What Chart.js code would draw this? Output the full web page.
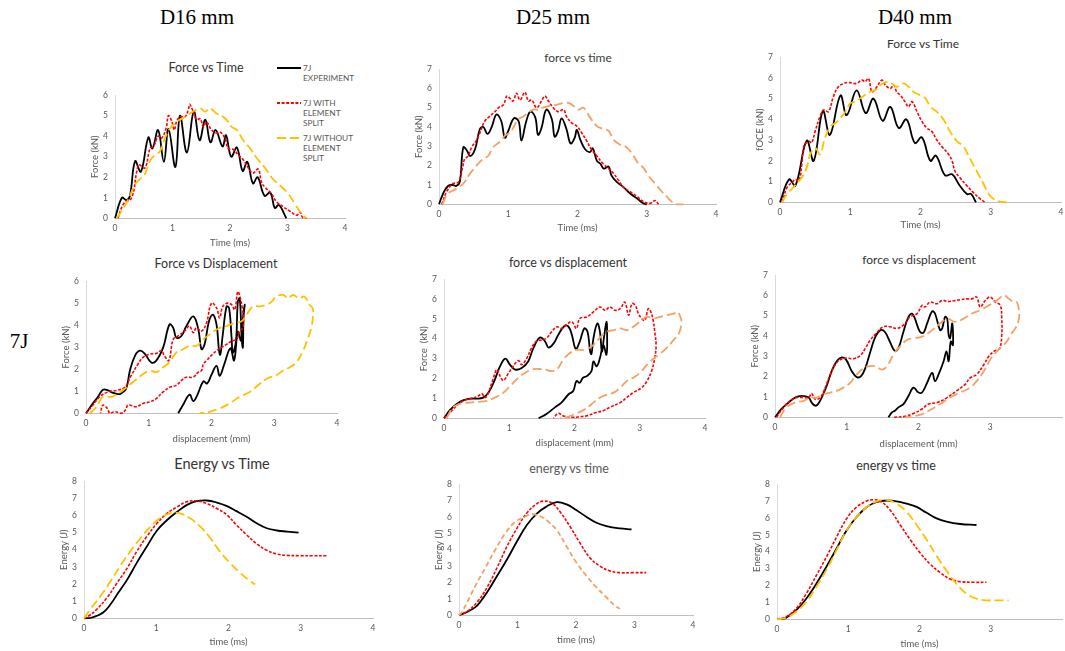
<!DOCTYPE html>
<html lang="en">
<head>
<meta charset="UTF-8">
<title>7J impact - force, displacement and energy</title>
<script src="https://cdn.jsdelivr.net/npm/chart.js"></script>
<style>
  html, body { margin: 0; padding: 0; background: #fff; overflow: hidden; }
  body { width: 1065px; height: 651px; position: relative; font-family: 'Lato', sans-serif; }
  .head { position: absolute; font-family: 'Liberation Serif', 'Times New Roman', serif; font-size: 21px; color: #000; transform: translate(-50%, -50%); white-space: nowrap; }
  .ttl { position: absolute; transform: translate(-50%, -50%); white-space: nowrap; color: #333; }
  canvas { position: absolute; }
  .leg { position: absolute; font-size: 8.3px; line-height: 10px; color: #595959; }
  .legline { position: absolute; }
</style>
</head>
<body>
<div class="head" style="left:197px;top:17px">D16 mm</div>
<div class="head" style="left:553px;top:17px">D25 mm</div>
<div class="head" style="left:915px;top:17px">D40 mm</div>
<div class="head" style="left:19px;top:341px">7J</div>

<!-- legend of the first panel -->
<svg class="legline" style="left:277px;top:64px" width="24" height="8"><line x1="0" y1="4" x2="24" y2="4" stroke="#000" stroke-width="2"/></svg>
<div class="leg" style="left:303px;top:63px">7J<br>EXPERIMENT</div>
<svg class="legline" style="left:277px;top:99px" width="24" height="8"><line x1="0" y1="4" x2="24" y2="4" stroke="#ff0000" stroke-width="2" stroke-dasharray="3 1.6"/></svg>
<div class="leg" style="left:303px;top:98px">7J WITH<br>ELEMENT<br>SPLIT</div>
<svg class="legline" style="left:277px;top:134px" width="24" height="8"><line x1="0" y1="4" x2="24" y2="4" stroke="#ffc000" stroke-width="2" stroke-dasharray="9 4"/></svg>
<div class="leg" style="left:303px;top:133px">7J WITHOUT<br>ELEMENT<br>SPLIT</div>

<script>
// ---- D16 force vs time
const ft16ExpT = [0,0.12,0.2,0.26,0.35,0.45,0.58,0.65,0.75,0.85,0.93,1.05,1.13,1.25,1.37,1.47,1.57,1.66,1.75,1.87,1.93,2.02,2.12,2.22,2.3,2.4,2.48,2.6,2.7,2.78,2.85,2.98];
const ft16ExpF = [0,1.0,0.88,1.1,2.78,2.27,3.94,3.4,4.3,2.75,4.35,2.5,5.0,3.2,5.2,3.8,4.8,3.7,4.3,3.5,4.05,3.0,3.45,2.3,2.75,1.7,2.0,1.1,1.25,0.5,0.65,0];
const ft16SplitT = [0.05,0.15,0.29,0.38,0.42,0.52,0.61,0.67,0.75,0.81,0.89,0.93,0.99,1.03,1.07,1.13,1.22,1.28,1.3,1.36,1.42,1.48,1.54,1.59,1.68,1.77,1.83,1.91,1.97,2.06,2.14,2.23,2.32,2.4,2.49,2.55,2.61,2.72,2.81,2.93,3.04,3.16,3.22,3.26,3.33];
const ft16SplitF = [0,0.7,1.0,2.3,2.6,2.45,3.4,3.5,4.0,3.9,4.4,5.0,4.7,4.3,4.7,4.95,4.95,5.35,5.55,5.2,4.8,4.85,4.45,4.7,4.3,4.15,4.2,3.9,3.4,3.35,3.1,2.85,2.45,2.2,2.4,1.75,1.5,1.2,0.8,0.55,0.35,0.15,0.3,0.05,0];
const ft16NoSplitT = [0.03,0.2,0.35,0.43,0.52,0.61,0.7,0.78,0.87,0.96,1.07,1.22,1.36,1.48,1.57,1.65,1.77,1.88,1.97,2.03,2.12,2.23,2.35,2.46,2.61,2.75,2.87,3.01,3.13,3.25,3.33];
const ft16NoSplitF = [0,0.75,1.65,1.9,2.15,2.8,3.1,3.25,3.9,4.4,4.7,4.95,5.2,5.35,5.2,5.35,5.1,4.95,4.7,4.45,4.3,3.8,3.4,2.95,2.45,1.9,1.6,1.2,0.7,0.2,0];

// ---- D25 force vs time
const ft25ExpT = [0,0.06,0.13,0.2,0.25,0.3,0.35,0.4,0.45,0.52,0.59,0.64,0.7,0.76,0.83,0.9,0.95,1.0,1.08,1.15,1.19,1.26,1.32,1.39,1.43,1.48,1.55,1.63,1.67,1.72,1.77,1.84,1.9,1.96,1.99,2.04,2.11,2.18,2.22,2.28,2.33,2.38,2.45,2.49,2.57,2.66,2.76,2.86,2.95,3.0];
const ft25ExpF = [0,0.56,0.95,1.0,0.95,1.15,2.95,2.8,2.5,2.85,3.9,4.0,3.65,4.0,4.65,4.3,3.45,3.8,4.45,4.3,3.3,4.3,4.8,4.5,3.6,3.95,4.9,4.4,3.5,3.8,4.45,3.9,3.15,3.45,3.85,3.35,2.85,2.7,2.9,2.25,2.1,1.85,1.95,1.5,1.15,0.9,0.56,0.3,0.05,0];
const ft25SplitT = [0.04,0.11,0.2,0.28,0.34,0.37,0.42,0.47,0.54,0.59,0.66,0.73,0.81,0.86,0.93,0.98,1.02,1.07,1.12,1.17,1.24,1.29,1.34,1.41,1.48,1.53,1.58,1.65,1.72,1.8,1.84,1.92,1.99,2.06,2.13,2.2,2.28,2.37,2.45,2.52,2.59,2.66,2.76,2.86,2.95,3.05,3.12,3.17];
const ft25SplitF = [0,0.65,1.07,1.15,1.9,2.35,2.5,2.95,3.3,3.7,4.3,4.55,4.8,5.0,5.15,5.6,5.5,5.35,5.75,5.4,5.8,5.35,5.4,5.0,5.35,5.6,5.35,5.0,4.8,4.9,4.55,4.2,4.05,3.7,3.3,2.85,2.5,2.1,1.85,1.6,1.25,0.9,0.65,0.4,0.15,0.05,0.2,0];
const ft25NoSplitT = [0.05,0.13,0.25,0.35,0.45,0.52,0.59,0.66,0.71,0.78,0.83,0.9,0.95,1.02,1.07,1.14,1.22,1.29,1.36,1.43,1.5,1.6,1.7,1.8,1.87,1.94,2.01,2.08,2.13,2.18,2.28,2.37,2.45,2.52,2.61,2.71,2.81,2.88,2.95,3.02,3.12,3.22,3.29,3.36,3.43,3.53];
const ft25NoSplitF = [0,0.55,0.8,1.07,1.6,1.9,2.2,2.4,2.5,2.95,3.1,3.3,3.55,3.7,3.95,4.4,4.55,4.75,4.9,4.9,5.0,5.1,5.15,5.25,5.25,5.1,4.9,5.0,4.8,4.5,4.05,3.9,3.8,3.35,3.1,2.95,2.5,2.1,1.9,1.5,1.07,0.65,0.4,0.14,0,0];

// ---- D40 force vs time
const ft40ExpT = [0,0.13,0.22,0.38,0.48,0.61,0.71,0.86,0.95,1.09,1.22,1.33,1.46,1.57,1.69,1.8,1.92,2.02,2.14,2.22,2.35,2.45,2.55,2.66,2.72,2.79];
const ft40ExpF = [0,1.1,0.8,2.97,2.0,4.4,3.25,5.15,4.2,5.4,4.3,5.0,3.93,4.6,3.58,4.0,2.86,3.13,2.0,2.25,1.3,1.35,0.85,0.4,0.4,0];
const ft40SplitT = [0.03,0.1,0.17,0.22,0.27,0.31,0.34,0.41,0.45,0.5,0.57,0.62,0.69,0.76,0.83,0.91,0.98,1.05,1.09,1.17,1.21,1.26,1.31,1.38,1.45,1.5,1.57,1.62,1.66,1.71,1.78,1.83,1.88,1.95,2.02,2.09,2.16,2.23,2.3,2.4,2.45,2.49,2.56,2.66,2.75,2.85,2.92];
const ft40SplitF = [0,0.72,0.95,1.1,1.03,1.83,2.7,2.94,2.86,3.42,4.14,4.45,4.37,5.09,5.57,5.73,5.78,5.73,5.73,5.89,5.81,5.97,5.33,5.57,5.89,5.65,5.49,5.65,5.33,5.17,4.85,4.61,4.85,4.37,3.9,3.58,3.42,3.02,2.7,2.31,1.99,1.51,1.19,0.8,0.48,0.16,0];
const ft40NoSplitT = [0.03,0.1,0.19,0.31,0.38,0.43,0.5,0.57,0.64,0.72,0.79,0.86,0.93,1.0,1.07,1.14,1.21,1.28,1.36,1.43,1.52,1.59,1.66,1.76,1.83,1.9,1.99,2.07,2.14,2.23,2.33,2.42,2.52,2.61,2.71,2.8,2.9,2.97,3.04,3.13,3.23];
const ft40NoSplitF = [0,0.4,0.72,1.19,1.67,2.31,2.62,2.31,3.1,3.66,3.82,4.06,4.37,4.77,4.85,5.01,5.17,5.33,5.41,5.65,5.81,5.73,5.57,5.73,5.57,5.33,5.17,5.01,4.61,4.37,3.98,3.42,2.94,2.7,2.07,1.51,0.87,0.4,0.16,0.03,0];

// ---- D16 force vs displacement
const fd16ExpD = [0,0.11,0.19,0.27,0.35,0.43,0.51,0.56,0.64,0.7,0.78,0.86,0.94,1.04,1.12,1.23,1.33,1.39,1.44,1.52,1.6,1.71,1.79,1.84,1.89,1.96,2.02,2.08,2.12,2.14,2.18,2.24,2.28,2.32,2.34,2.39,2.42,2.45,2.48,2.5,2.51,2.53,2.5,2.47,2.42,2.36,2.3,2.2,2.13,2.08,2.0,1.93,1.87,1.77,1.71,1.65,1.55,1.47];
const fd16ExpF = [0,0.45,0.75,1.07,1.04,0.93,0.87,0.9,1.12,1.94,2.61,2.84,2.69,2.31,2.39,2.99,4.03,3.88,3.43,3.51,3.96,4.4,3.81,2.91,3.13,4.18,4.48,4.03,2.84,2.66,3.58,4.85,4.78,3.43,2.76,3.28,5.07,5.22,3.43,2.99,4.33,4.93,4.3,3.3,3.7,2.4,2.95,2.2,1.7,2.15,1.75,1.35,1.45,0.8,0.55,0.85,0.4,0];
const fd16SplitD = [0,0.09,0.22,0.35,0.49,0.62,0.72,0.83,0.91,1.02,1.12,1.2,1.25,1.32,1.39,1.47,1.57,1.65,1.71,1.76,1.84,1.92,2.0,2.08,2.13,2.18,2.26,2.32,2.37,2.42,2.46,2.49,2.51,2.5,2.45,2.4,2.32,2.24,2.16,2.08,2.02,1.92,1.87,1.84,1.79,1.71,1.6,1.52,1.44,1.34,1.23,1.12,1.02,0.91,0.8,0.67,0.63,0.56,0.46,0.38,0.34,0.27,0.23];
const fd16SplitF = [0,0.3,0.75,0.97,1.04,1.19,1.72,2.24,2.54,2.69,2.72,2.84,2.61,2.39,3.36,3.51,3.73,3.96,3.66,3.88,3.73,4.1,5.0,4.78,4.33,4.85,5.0,4.93,4.7,5.52,5.22,4.78,4.33,3.88,3.73,3.36,3.28,3.13,2.99,2.84,2.69,2.39,2.24,1.94,1.87,1.64,1.64,1.49,1.27,1.19,0.97,0.67,0.52,0.45,0.3,0.37,0.15,0,0.07,0,0.22,0.37,0];
const fd16NoSplitD = [0.06,0.17,0.27,0.41,0.51,0.62,0.75,0.88,1.02,1.12,1.23,1.33,1.44,1.55,1.65,1.76,1.87,1.97,2.11,2.24,2.37,2.48,2.56,2.66,2.77,2.88,2.96,3.03,3.14,3.22,3.3,3.4,3.48,3.56,3.61,3.62,3.59,3.54,3.46,3.35,3.25,3.14,3.03,2.88,2.74,2.61,2.45,2.29,2.13,1.97,1.81];
const fd16NoSplitF = [0,0.3,0.75,0.75,0.9,1.12,1.42,1.72,1.94,1.87,2.09,2.31,2.76,2.91,3.06,3.06,3.36,3.58,3.85,3.96,4.1,4.18,4.48,4.85,4.85,4.93,5.07,5.3,5.37,5.22,5.37,5.22,5.3,4.93,4.78,4.48,3.88,3.43,2.84,2.31,2.09,1.94,1.72,1.57,1.27,0.97,0.75,0.45,0.22,0.07,0];

// ---- D25 force vs displacement
const fd25ExpD = [0,0.09,0.19,0.3,0.4,0.5,0.6,0.68,0.76,0.86,0.94,1.01,1.09,1.19,1.29,1.37,1.47,1.55,1.6,1.68,1.75,1.85,1.91,1.96,2.02,2.08,2.15,2.2,2.24,2.26,2.29,2.35,2.39,2.42,2.45,2.49,2.5,2.49,2.44,2.39,2.34,2.29,2.26,2.19,2.13,2.08,2.03,1.98,1.91,1.8,1.7,1.57,1.45];
const fd25ExpF = [0,0.41,0.71,0.91,0.99,0.99,1.04,1.29,1.79,2.62,3.0,2.7,2.45,2.53,2.86,3.53,4.06,3.86,3.56,3.77,4.19,4.65,4.6,4.19,3.49,3.86,4.52,4.35,3.36,3.23,4.02,4.77,4.35,3.36,4.02,4.85,4.19,3.2,3.69,3.03,2.62,2.86,2.37,2.12,2.04,1.79,1.87,1.37,1.21,0.79,0.55,0.22,0];
const fd25SplitD = [0,0.12,0.22,0.32,0.42,0.53,0.58,0.63,0.68,0.75,0.81,0.86,0.91,0.99,1.06,1.14,1.19,1.27,1.34,1.42,1.5,1.57,1.65,1.73,1.8,1.88,1.96,2.03,2.08,2.19,2.29,2.39,2.47,2.54,2.62,2.7,2.77,2.83,2.88,2.93,2.98,3.03,3.08,3.13,3.17,3.21,3.23,3.25,3.23,3.18,3.11,3.03,2.9,2.8,2.7,2.54,2.44,2.34,2.19,2.08,1.98,1.83,1.75,1.68];
const fd25SplitF = [0,0.38,0.71,0.91,0.99,1.13,1.24,1.04,1.29,1.95,2.45,2.12,1.9,2.28,2.62,2.9,2.7,3.03,3.53,3.89,3.94,4.02,4.35,4.6,4.52,4.72,4.85,4.52,5.02,5.1,5.35,5.6,5.43,5.6,5.43,5.51,5.84,5.18,5.76,5.68,5.26,5.02,4.93,5.51,5.35,4.85,4.35,3.69,3.03,2.37,1.87,1.54,1.29,1.04,0.79,0.55,0.38,0.3,0.13,0.08,0.05,0.12,0.25,0];
const fd25NoSplitD = [0.04,0.14,0.27,0.4,0.53,0.65,0.78,0.91,1.04,1.14,1.24,1.34,1.45,1.55,1.65,1.73,1.83,1.93,2.03,2.16,2.29,2.39,2.49,2.6,2.7,2.8,2.9,3.0,3.11,3.21,3.31,3.41,3.52,3.58,3.63,3.64,3.6,3.52,3.41,3.29,3.16,3.0,2.9,2.8,2.7,2.6,2.49,2.39,2.26,2.14,2.01,1.88,1.78];
const fd25NoSplitF = [0,0.55,0.75,0.79,0.83,0.88,1.04,1.29,1.71,2.04,2.28,2.45,2.48,2.45,2.37,2.45,2.95,3.28,3.44,3.44,3.69,4.06,4.35,4.44,4.52,4.44,4.6,4.85,5.1,5.02,5.1,5.18,5.26,5.35,5.02,4.77,4.27,3.94,3.53,3.2,2.86,2.28,2.04,1.87,1.54,1.29,1.18,1.04,0.71,0.41,0.22,0.05,0];

// ---- D40 force vs displacement
const fd40ExpD = [0,0.09,0.19,0.28,0.37,0.47,0.51,0.56,0.6,0.65,0.72,0.79,0.86,0.93,0.99,1.07,1.14,1.2,1.26,1.33,1.4,1.47,1.53,1.6,1.67,1.72,1.79,1.86,1.91,1.95,2.02,2.07,2.12,2.19,2.23,2.3,2.33,2.37,2.4,2.42,2.44,2.47,2.48,2.45,2.42,2.39,2.35,2.28,2.23,2.19,2.12,2.05,2.0,1.93,1.86,1.79,1.72,1.67,1.63,1.58];
const fd40ExpF = [0,0.41,0.73,0.97,1.05,0.97,0.73,0.57,0.65,0.97,1.54,2.27,2.76,2.95,2.84,2.27,1.98,2.03,2.43,3.24,3.97,4.29,4.21,3.73,3.27,3.4,4.21,4.94,5.1,4.86,4.21,4.17,4.62,5.22,5.11,4.29,4.38,4.94,4.86,4.05,3.89,4.62,3.55,3.73,2.76,3.24,2.76,2.11,1.78,2.19,1.7,1.22,1.22,1.46,1.05,0.65,0.49,0.32,0.24,0];
const fd40SplitD = [0.02,0.12,0.21,0.3,0.4,0.47,0.51,0.56,0.63,0.7,0.77,0.84,0.91,1.0,1.09,1.19,1.26,1.33,1.42,1.51,1.6,1.7,1.79,1.88,1.98,2.05,2.09,2.16,2.26,2.33,2.42,2.51,2.58,2.67,2.74,2.81,2.86,2.93,3.0,3.07,3.14,3.16,3.16,3.13,3.05,2.98,2.91,2.81,2.72,2.65,2.53,2.4,2.26,2.14,2.05,1.93,1.81,1.65];
const fd40SplitF = [0,0.49,0.81,0.97,0.97,0.97,1.17,0.89,0.97,1.46,2.11,2.59,2.84,2.92,2.88,3.05,3.4,3.81,4.17,4.46,4.46,4.38,4.54,4.94,5.1,5.51,5.43,5.67,5.59,5.75,5.7,5.75,5.79,5.83,5.83,5.92,5.43,5.75,5.92,5.67,5.51,4.86,4.05,3.4,3.24,3.0,2.59,2.11,1.94,1.62,1.3,0.97,0.73,0.65,0.41,0.19,0.05,0];
const fd40NoSplitD = [0.07,0.16,0.28,0.4,0.49,0.58,0.67,0.77,0.86,0.95,1.05,1.12,1.21,1.3,1.4,1.49,1.56,1.65,1.74,1.84,1.93,2.05,2.16,2.3,2.4,2.51,2.63,2.74,2.86,2.98,3.09,3.19,3.26,3.33,3.37,3.4,3.4,3.35,3.28,3.23,3.14,3.07,3.0,2.91,2.81,2.72,2.58,2.44,2.3,2.16,2.05,1.93,1.81];
const fd40NoSplitF = [0,0.49,0.73,0.81,0.97,0.97,1.13,1.22,1.3,1.46,1.7,2.03,2.35,2.51,2.51,2.35,2.51,3.08,3.48,3.81,3.89,3.97,4.21,4.62,4.86,4.7,4.86,5.1,5.27,5.51,5.75,6.0,5.83,5.67,5.67,5.27,4.86,4.38,4.05,3.73,3.4,3.16,2.84,2.27,1.78,1.46,1.22,0.97,0.65,0.36,0.16,0.05,0];

// ---- D16 energy vs time
const et16ExpT = [0,0.09,0.18,0.27,0.37,0.46,0.6,0.73,0.87,1.01,1.15,1.29,1.42,1.56,1.7,1.84,1.98,2.11,2.25,2.39,2.53,2.67,2.81,2.97];
const et16ExpE = [0,0.02,0.15,0.35,0.83,1.4,2.27,3.23,4.19,5.12,5.73,6.21,6.6,6.83,6.87,6.75,6.54,6.25,5.92,5.54,5.25,5.12,5.06,5.0];
const et16SplitT = [0,0.07,0.18,0.32,0.46,0.6,0.73,0.87,1.01,1.15,1.29,1.42,1.56,1.7,1.84,1.98,2.11,2.25,2.39,2.53,2.67,2.81,2.99,3.17,3.36];
const et16SplitE = [0,0.15,0.54,1.21,2.08,2.94,3.9,4.77,5.54,6.12,6.5,6.79,6.85,6.69,6.4,6.02,5.44,4.87,4.35,3.96,3.75,3.67,3.65,3.65,3.65];
const et16NoSplitT = [0,0.09,0.23,0.37,0.5,0.64,0.78,0.92,1.05,1.19,1.33,1.47,1.61,1.75,1.88,2.02,2.16,2.3,2.37];
const et16NoSplitE = [0,0.54,1.31,2.17,3.04,3.9,4.67,5.35,5.83,6.12,6.12,5.83,5.35,4.67,3.9,3.23,2.65,2.17,1.98];

// ---- D25 energy vs time
const et25ExpT = [0,0.14,0.28,0.36,0.48,0.65,0.82,0.99,1.16,1.33,1.5,1.67,1.84,2.01,2.18,2.35,2.52,2.75,2.95];
const et25ExpE = [0,0.2,0.5,0.8,1.4,2.4,3.4,4.5,5.5,6.2,6.64,6.9,6.76,6.4,6.0,5.64,5.44,5.3,5.24];
const et25SplitT = [0,0.14,0.31,0.48,0.65,0.82,0.99,1.16,1.33,1.44,1.59,1.73,1.9,2.07,2.24,2.41,2.58,2.75,2.98,3.2];
const et25SplitE = [0,0.24,0.8,1.7,2.9,4.2,5.3,6.24,6.8,6.96,6.84,6.3,5.4,4.4,3.5,3.0,2.7,2.6,2.6,2.6];
const et25NoSplitT = [0,0.05,0.14,0.28,0.45,0.62,0.79,0.96,1.1,1.24,1.39,1.53,1.67,1.84,2.01,2.18,2.35,2.52,2.66,2.75];
const et25NoSplitE = [0,0.2,0.8,1.8,2.9,4.0,5.0,5.7,5.96,6.16,6.04,5.7,5.2,4.2,3.2,2.4,1.7,1.1,0.6,0.4];

// ---- D40 energy vs time
const et40ExpT = [0.06,0.13,0.27,0.41,0.55,0.7,0.84,0.98,1.12,1.26,1.4,1.54,1.68,1.82,1.96,2.1,2.24,2.38,2.57,2.8];
const et40ExpE = [0,0.1,0.54,1.22,2.09,3.16,4.22,5.29,6.07,6.65,6.94,7.03,6.98,6.84,6.65,6.3,5.97,5.78,5.64,5.58];
const et40SplitT = [0,0.13,0.27,0.41,0.55,0.7,0.84,0.98,1.12,1.26,1.35,1.45,1.59,1.73,1.87,2.01,2.15,2.29,2.43,2.57,2.76,2.94];
const et40SplitE = [0,0.16,0.64,1.51,2.58,3.74,4.9,5.97,6.65,7.0,7.07,7.0,6.45,5.58,4.71,3.93,3.26,2.77,2.38,2.23,2.19,2.19];
const et40NoSplitT = [0,0.13,0.27,0.41,0.55,0.7,0.84,0.98,1.12,1.26,1.4,1.54,1.68,1.82,1.96,2.1,2.24,2.38,2.52,2.66,2.8,2.94,3.08,3.25];
const et40NoSplitE = [0,0.1,0.45,1.03,1.9,2.97,4.13,5.29,6.07,6.65,6.98,7.07,6.84,6.36,5.58,4.71,3.74,2.87,2.09,1.51,1.22,1.12,1.12,1.12];

const seriesNames = ['7J EXPERIMENT', '7J WITH ELEMENT SPLIT', '7J WITHOUT ELEMENT SPLIT'];

// line styles (excel draws the last series on top, so the order values go down)
const EXP = { borderColor: '#000000', borderWidth: 1.8, order: 2 };
const SPLIT = { borderColor: '#ff0000', borderWidth: 1.6, borderDash: [3, 1.6], order: 1 };
const GOLD = { borderColor: '#ffc000', borderWidth: 1.8, borderDash: [9, 4], order: 0 };
const ORANGE = { borderColor: '#f4a264', borderWidth: 1.8, borderDash: [9, 4], order: 0 };
const ORANGE_SHORT = { borderColor: '#f4a264', borderWidth: 1.8, borderDash: [5, 3], order: 0 };

function line(label, xs, ys, style) {
    return Object.assign({
        label: label,
        data: xs.map((x, i) => ({ x: x, y: ys[i] })),
        showLine: true,
        pointRadius: 0,
        fill: false,
        tension: 0.4,
        clip: 4
    }, style);
}

function trio(xa, ya, xb, yb, xc, yc, third) {
    return [
        line(seriesNames[0], xa, ya, EXP),
        line(seriesNames[1], xb, yb, SPLIT),
        line(seriesNames[2], xc, yc, third)
    ];
}

// rect = plot area [left, top, right, bottom] in page pixels
const panels = [
    { rect: [115, 93, 345, 218], yMax: 6, yTitle: 'Force (kN)', xTitle: 'Time (ms)', xt: 25,
      title: 'Force vs Time', tx: 206, ty: 67, fs: 12.5,
      sets: trio(ft16ExpT, ft16ExpF, ft16SplitT, ft16SplitF, ft16NoSplitT, ft16NoSplitF, GOLD) },
    { rect: [439, 67, 716, 204], yMax: 7, yTitle: 'Force (kN)', xTitle: 'Time (ms)', xt: 24,
      title: 'force vs time', tx: 578, ty: 57, fs: 12, color: '#404040',
      sets: trio(ft25ExpT, ft25ExpF, ft25SplitT, ft25SplitF, ft25NoSplitT, ft25NoSplitF, ORANGE) },
    { rect: [780, 55, 1061, 202], yMax: 7, yTitle: 'fOCE (kN)', xTitle: 'Time (ms)', xt: 23,
      title: 'Force vs Time', tx: 923, ty: 43, fs: 12,
      sets: trio(ft40ExpT, ft40ExpF, ft40SplitT, ft40SplitF, ft40NoSplitT, ft40NoSplitF, GOLD) },
    { rect: [86, 279, 337, 413], yMax: 6, yTitle: 'Force (kN)', xTitle: 'displacement (mm)', xt: 26,
      title: 'Force vs Displacement', tx: 216, ty: 263, fs: 12.5,
      sets: trio(fd16ExpD, fd16ExpF, fd16SplitD, fd16SplitF, fd16NoSplitD, fd16NoSplitF, GOLD) },
    { rect: [444, 277, 705, 418], yMax: 7, yTitle: 'Force  (kN)', xTitle: 'displacement (mm)', xt: 25,
      title: 'force vs displacement', tx: 568, ty: 262, fs: 12.5,
      sets: trio(fd25ExpD, fd25ExpF, fd25SplitD, fd25SplitF, fd25NoSplitD, fd25NoSplitF, ORANGE) },
    { rect: [775, 273, 1062, 417], yMax: 7, yTitle: 'Force (kN)', xTitle: 'displacement (mm)', xt: 27, hide4: true,
      title: 'force vs displacement', tx: 919, ty: 259, fs: 12,
      sets: trio(fd40ExpD, fd40ExpF, fd40SplitD, fd40SplitF, fd40NoSplitD, fd40NoSplitF, ORANGE) },
    { rect: [84, 479, 373, 618], yMax: 8, yTitle: 'Energy (J)', xTitle: 'time (ms)', xt: 24,
      title: 'Energy vs Time', tx: 222, ty: 463, fs: 14.5,
      sets: trio(et16ExpT, et16ExpE, et16SplitT, et16SplitE, et16NoSplitT, et16NoSplitE, GOLD) },
    { rect: [459, 482, 693, 615], yMax: 8, yTitle: 'Energy (J)', xTitle: 'time (ms)', xt: 25,
      title: 'energy vs time', tx: 569, ty: 468, fs: 12.5, color: '#595959',
      sets: trio(et25ExpT, et25ExpE, et25SplitT, et25SplitE, et25NoSplitT, et25NoSplitE, ORANGE_SHORT) },
    { rect: [777, 482, 1062, 619], yMax: 8, yTitle: 'Energy (J)', xTitle: 'time (ms)', xt: 25, hide4: true,
      title: 'energy vs time', tx: 896, ty: 465, fs: 12.5,
      sets: trio(et40ExpT, et40ExpE, et40SplitT, et40SplitE, et40NoSplitT, et40NoSplitE, GOLD) }
];

const YW = 30, PT = 10, PR = 8;
const tickFont = { family: 'Lato', size: 8.5 };
const axisFont = { family: 'Lato', size: 9.5 };

panels.forEach(p => {
    const [l, t, r, b] = p.rect;
    // title line height is 9.5 * 1.2, half of it plus the bottom padding
    const XH = p.xt + 5.7 + 2;

    const title = document.createElement('div');
    title.className = 'ttl';
    title.textContent = p.title;
    title.style.left = p.tx + 'px';
    title.style.top = p.ty + 'px';
    title.style.fontSize = p.fs + 'px';
    if (p.color) title.style.color = p.color;
    document.body.appendChild(title);

    const c = document.createElement('canvas');
    c.width = r - l + YW + PR;
    c.height = Math.round(b - t + PT + XH);
    c.style.left = (l - YW) + 'px';
    c.style.top = (t - PT) + 'px';
    document.body.appendChild(c);

    new Chart(c, {
        type: 'scatter',
        data: { datasets: p.sets },
        options: {
            responsive: false,
            animation: false,
            events: [],
            layout: { padding: { left: 0, top: PT, right: PR, bottom: 0 } },
            plugins: { legend: { display: false }, tooltip: { enabled: false } },
            scales: {
                x: {
                    type: 'linear', min: 0, max: 4,
                    afterFit: s => { s.height = XH; },
                    grid: { display: false, drawTicks: false },
                    border: { display: true, color: '#bfbfbf' },
                    ticks: { stepSize: 1, padding: 5, color: '#595959', font: tickFont, maxRotation: 0,
                             callback: v => (p.hide4 && v === 4) ? '' : v },
                    title: { display: true, text: p.xTitle, color: '#595959', font: axisFont, padding: { top: 0, bottom: 2 } }
                },
                y: {
                    type: 'linear', min: 0, max: p.yMax,
                    afterFit: s => { s.width = YW; },
                    grid: { display: false, drawTicks: false },
                    border: { display: true, color: '#d9d9d9' },
                    ticks: { stepSize: 1, padding: 7, color: '#595959', font: tickFont },
                    title: { display: true, text: p.yTitle, color: '#595959', font: axisFont, padding: { top: 4.3, bottom: 0 } }
                }
            }
        }
    });
});
</script>
</body>
</html>
